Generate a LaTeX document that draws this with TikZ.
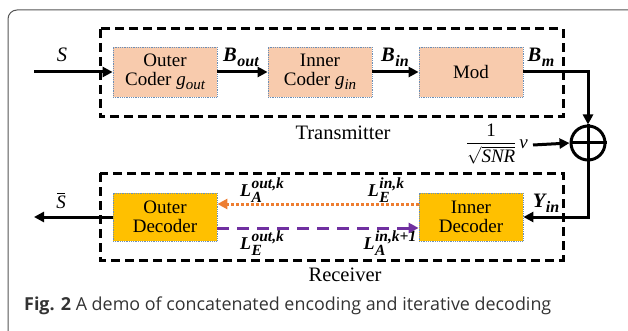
\documentclass[tikz,border=0pt]{standalone}
\usepackage{amsmath}
\usepackage{fontspec}
\setmainfont{Liberation Serif}
\newfontfamily\capfont{Open Sans}
\usetikzlibrary{arrows.meta}
\definecolor{peach}{HTML}{F8CBAD}
\definecolor{gold}{HTML}{FFC000}
\definecolor{bord}{HTML}{6A8FB8}
\definecolor{orng}{HTML}{ED7D31}
\definecolor{purp}{HTML}{7030A0}
\definecolor{frame}{HTML}{555555}
% base, subscript
\newcommand\bsub[2]{{\bfseries\itshape #1\kern0.5pt\raisebox{-5pt}{\fontsize{16}{16}\selectfont #2}}}
% base, subscript, superscript
\newcommand\lab[3]{{\bfseries\itshape #1\kern0.5pt\rlap{\raisebox{-6pt}{\fontsize{15.5}{15}\selectfont #2}}\raisebox{8pt}{\fontsize{15.5}{15}\selectfont #3}}}
\newcommand\isub[2]{{\itshape #1\raisebox{-4.5pt}{\fontsize{15}{15}\selectfont #2}}}
\begin{document}
\begin{tikzpicture}[x=1pt,y=-1pt,
  blk/.style={draw=bord, densely dotted, line width=0.8pt, minimum width=104pt, minimum height=50pt, inner sep=0pt, align=center, font=\fontsize{19}{21}\selectfont},
  grp/.style={draw, dash pattern=on 9pt off 5pt, line width=3pt},
  arr/.style={line width=3pt, -{Triangle[length=10pt,width=10pt]}},
  lbl/.style={font=\fontsize{20.5}{22}\selectfont, inner sep=0pt},
  llbl/.style={font=\fontsize{18}{20}\selectfont, inner sep=0pt},
  txt/.style={font=\fontsize{20.5}{23}\selectfont, inner sep=0pt}
]
\useasboundingbox (0,0) rectangle (628,331);
\draw[frame, line width=1pt, rounded corners=9pt] (8,340) -- (8,10) -- (640,10);

% transmitter
\draw[grp] (100,29) rectangle (563,117);
\node[blk, fill=peach] (oc) at (165,72) {Outer\\[-2pt]Coder \isub{g}{out}};
\node[blk, fill=peach] (ic) at (320,72) {Inner\\[-2pt]Coder \isub{g}{in}};
\node[blk, fill=peach] (mod) at (471,72) {Mod};
\node[txt] (tx) at (343,133) {Transmitter};

\coordinate (sin) at (34,72);
\draw[arr] (sin) -- (oc.west);
\draw[arr] (oc.east) -- (ic.west);
\draw[arr] (ic.east) -- (mod.west);
\node[lbl] (ls) at (62,55) {\textit{S}};
\node[lbl] (lbo) at (241,57) {\bsub{B}{out}};
\node[lbl] (lbi) at (395,57) {\bsub{B}{in}};
\node[lbl] (lbm) at (541,57) {\bsub{B}{m}};

% channel
\node[circle, draw, line width=3pt, minimum size=34pt, inner sep=0pt] (sum) at (588,143) {};
\draw[line width=3pt] (sum.north) -- (sum.south) (sum.west) -- (sum.east);
\draw[arr] (mod.east) -| (sum.north);
\node[lbl, anchor=east, font=\fontsize{19}{21}\selectfont] (noise) at (528,144) {$\dfrac{\text{1}}{\sqrt{\textit{SNR}}}\,\textit{v}$};
\draw[arr] (noise.east) ++(5pt,-1pt) coordinate (nz) (nz) -- (sum.west);

% receiver
\draw[grp] (100,173) rectangle (563,260);
\node[blk, fill=gold, minimum height=48pt] (od) at (165,217) {Outer\\[-2pt]Decoder};
\node[blk, fill=gold, minimum height=48pt] (id) at (471,217) {Inner\\[-2pt]Decoder};
\node[txt] (rx) at (345,275) {Receiver};

\draw[arr] (sum.south) |- (id.east);
\node[lbl] (ly) at (546,203) {\bsub{Y}{in}};
\coordinate (sout) at (34,217);
\draw[arr] (od.west) -- (sout);
\node[lbl, font=\fontsize{19}{21}\selectfont] (lsb) at (61,201) {\textit{S}\llap{\raisebox{14pt}{\rule{8pt}{1.1pt}}\hspace{0.5pt}}};

\draw[orng, line width=3pt, dotted, -{Triangle[length=10pt,width=10pt]}] ([yshift=13pt]id.west) -- ([yshift=13pt]od.east);
\draw[purp, line width=3pt, dash pattern=on 12pt off 8pt, -{Triangle[length=10pt,width=10pt]}] ([yshift=-11pt]od.east) -- ([yshift=-11pt]id.west);
\node[llbl] (la1) at (262,190) {\lab{L}{A}{out,k}};
\node[llbl] (le1) at (386,190) {\lab{L}{E}{in,k}};
\node[llbl] (le2) at (262,243) {\lab{L}{E}{out,k}};
\node[llbl] (la2) at (390,243) {\lab{L}{A}{in,k+1}};

% caption
\node[anchor=west, inner sep=0pt, text=black!80, font=\capfont\fontsize{17.9}{20}\selectfont] (cap) at (24,306) {\textbf{Fig. 2} A demo of concatenated encoding and iterative decoding};
\end{tikzpicture}
\end{document}
